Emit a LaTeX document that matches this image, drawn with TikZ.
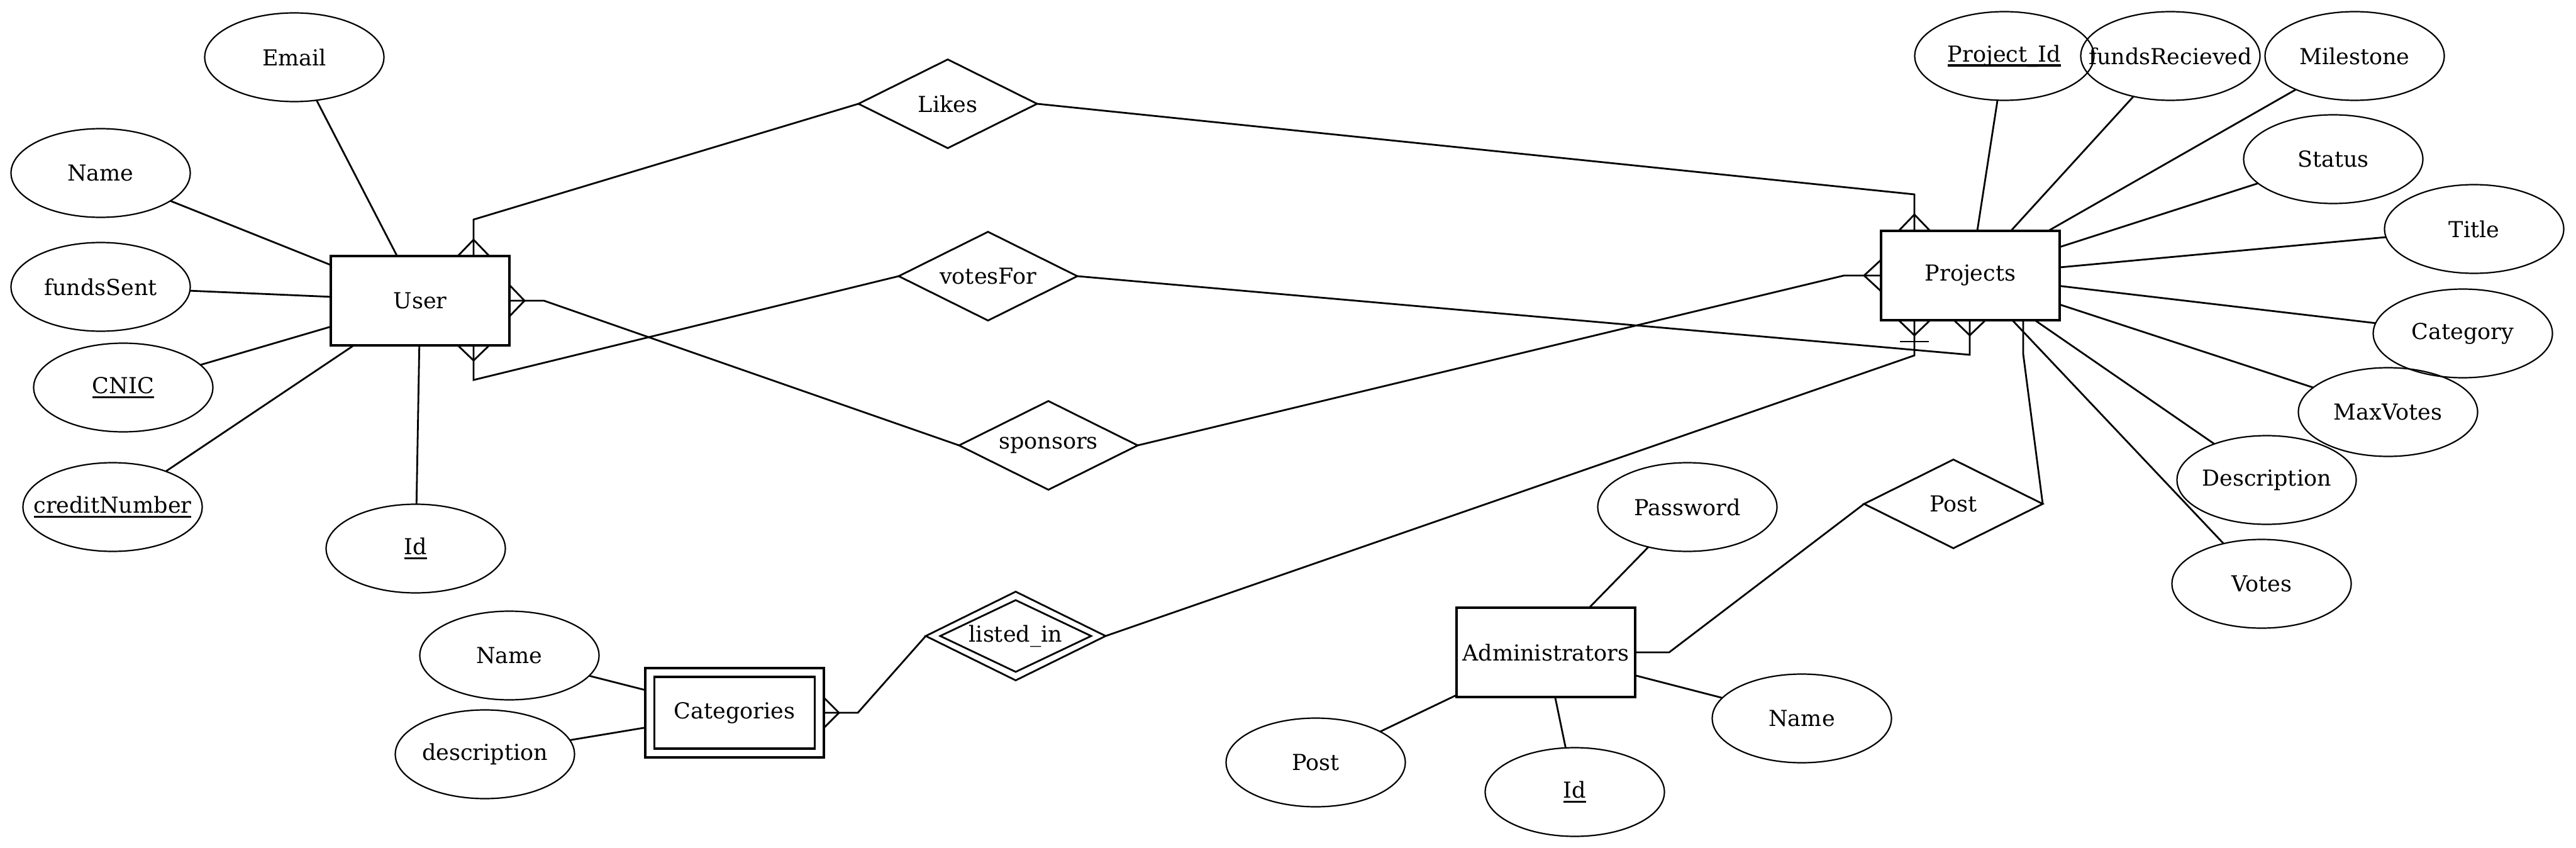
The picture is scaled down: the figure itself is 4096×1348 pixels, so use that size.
\documentclass[tikz,border=0pt]{standalone}
\usepackage{fontspec}
\setmainfont{DejaVu Serif}
\usetikzlibrary{shapes.geometric,calc}
\newcommand\ulin[1]{\setbox0\hbox{#1}\rlap{\rule[-7.5pt]{\wd0}{3.2pt}}\box0}
\begin{document}
\begin{tikzpicture}[x=1pt,y=-1pt,
  every node/.style={font=\fontsize{35}{42}\selectfont, inner sep=0pt, outer sep=0pt},
  nobox/.style={execute at begin node={\hbox to 0pt\bgroup\hss}, execute at end node={\hss\egroup}},
  entity/.style={rectangle, draw, line width=3.2pt, minimum width=284pt, minimum height=142pt, nobox},
  attr/.style={ellipse, draw, line width=2.2pt, minimum width=285pt, minimum height=141pt, nobox},
  rel/.style={diamond, draw, line width=2.8pt, minimum width=284pt, minimum height=141pt, nobox},
  conn/.style={line width=2.8pt},
  ]
\useasboundingbox (0,0) rectangle (4096,1348);
% entities
\node[entity] (User) at (668,478) {User};
\node[entity] (Projects) at (3133,438) {Projects};
\node[entity] (Admin) at (2458,1037) {Administrators};
\node[entity] (CatOut) at (1168,1133) {};
\node[entity, minimum width=255pt, minimum height=114pt] (CatIn) at (1168,1133) {Categories};
% relationships
\node[rel] (Likes) at (1507,165) {Likes};
\node[rel] (votesFor) at (1571,439) {votesFor};
\node[rel] (sponsors) at (1667,708) {sponsors};
\node[rel, minimum width=286pt, minimum height=141pt] (listedOut) at (1615,1011) {};
\node[rel, minimum width=240pt, minimum height=114pt] (listedIn) at (1615,1011) {listed\_in};
\node[rel] (Post) at (3106,801) {Post};
% user attributes
\node[attr] (Email) at (468,91) {Email};
\node[attr] (uName) at (160,275) {Name};
\node[attr] (fundsSent) at (160,456) {fundsSent};
\node[attr] (CNIC) at (196,616) {\ulin{CNIC}};
\node[attr] (credit) at (179,806) {\ulin{creditNumber}};
\node[attr] (uId) at (661,872) {\ulin{Id}};
% project attributes
\node[attr] (ProjectId) at (3187,89) {\ulin{Project\_Id}};
\node[attr] (fundsRec) at (3451,89) {fundsRecieved};
\node[attr] (Milestone) at (3744,89) {Milestone};
\node[attr] (Status) at (3710,253) {Status};
\node[attr] (Title) at (3934,364) {Title};
\node[attr] (Category) at (3916,530) {Category};
\node[attr] (MaxVotes) at (3797,655) {MaxVotes};
\node[attr] (Description) at (3604,763) {Description};
\node[attr] (Votes) at (3596,928) {Votes};
% admin attributes
\node[attr] (Password) at (2683,806) {Password};
\node[attr] (aName) at (2865,1142) {Name};
\node[attr] (aId) at (2504,1259) {\ulin{Id}};
\node[attr] (aPost) at (2092,1212) {Post};
% category attributes
\node[attr] (cName) at (810,1042) {Name};
\node[attr] (cDesc) at (771,1199) {description};
% attribute lines
\foreach \a in {Email,uName,fundsSent,CNIC,credit,uId}
  \draw[conn] (\a) -- (User);
\foreach \a in {ProjectId,fundsRec,Milestone,Status,Title,Category,MaxVotes,Description,Votes}
  \draw[conn] (\a) -- (Projects);
\foreach \a in {Password,aName,aId,aPost}
  \draw[conn] (\a) -- (Admin);
\foreach \a in {cName,cDesc}
  \draw[conn] (\a) -- (CatOut);
% User -- Likes -- Projects
\coordinate (k1) at (753,349);
\coordinate (k2) at (3044,309);
\path (User.north -| k1) coordinate (uT) (Projects.north -| k2) coordinate (pT);
\draw[conn] (uT) -- (k1) -- (Likes.west);
\draw[conn] (Likes.east) -- (k2) -- (pT);
\draw[conn] ($(uT)+(-25,0)$) -- ($(uT)+(0,-26)$) -- ($(uT)+(25,0)$);
\draw[conn] ($(pT)+(-25,0)$) -- ($(pT)+(0,-26)$) -- ($(pT)+(25,0)$);
% User -- votesFor -- Projects
\coordinate (v1) at (753,604);
\coordinate (v2) at (3132,564);
\path (User.south -| v1) coordinate (uB) (Projects.south -| v2) coordinate (pB2);
\draw[conn] (uB) -- (v1) -- (votesFor.west);
\draw[conn] (votesFor.east) -- (v2) -- (pB2);
\draw[conn] ($(uB)+(-25,0)$) -- ($(uB)+(0,24)$) -- ($(uB)+(25,0)$);
\draw[conn] ($(pB2)+(-25,0)$) -- ($(pB2)+(0,24)$) -- ($(pB2)+(25,0)$);
% User -- sponsors -- Projects
\coordinate (s1) at ($(User.east)+(55,0)$);
\coordinate (s2) at ($(Projects.west)+(-59,0)$);
\draw[conn] (User.east) -- (s1) -- (sponsors.west);
\draw[conn] (sponsors.east) -- (s2) -- (Projects.west);
\draw[conn] ($(User.east)+(0,-25)$) -- ($(User.east)+(24,0)$) -- ($(User.east)+(0,25)$);
\draw[conn] ($(Projects.west)+(0,-25)$) -- ($(Projects.west)+(-27,0)$) -- ($(Projects.west)+(0,25)$);
% Categories -- listed_in -- Projects
\coordinate (l1) at ($(CatOut.east)+(54,0)$);
\coordinate (l2) at (3044,565);
\path (Projects.south -| l2) coordinate (pB1);
\draw[conn] (CatOut.east) -- (l1) -- (listedOut.west);
\draw[conn] (listedOut.east) -- (l2) -- (pB1);
\draw[conn] ($(CatOut.east)+(0,-24)$) -- ($(CatOut.east)+(24,0)$) -- ($(CatOut.east)+(0,24)$);
\draw[conn] ($(pB1)+(-25,0)$) -- ($(pB1)+(0,24)$) -- ($(pB1)+(25,0)$);
\draw[conn] ($(pB1)+(-23,34)$) -- ($(pB1)+(23,34)$);
% Administrators -- Post -- Projects
\coordinate (a1) at ($(Admin.east)+(54,0)$);
\coordinate (a2) at (3217,563);
\path (Projects.south -| a2) coordinate (pB3);
\draw[conn] (Admin.east) -- (a1) -- (Post.west);
\draw[conn] (Post.east) -- (a2) -- (pB3);
\end{tikzpicture}
\end{document}
